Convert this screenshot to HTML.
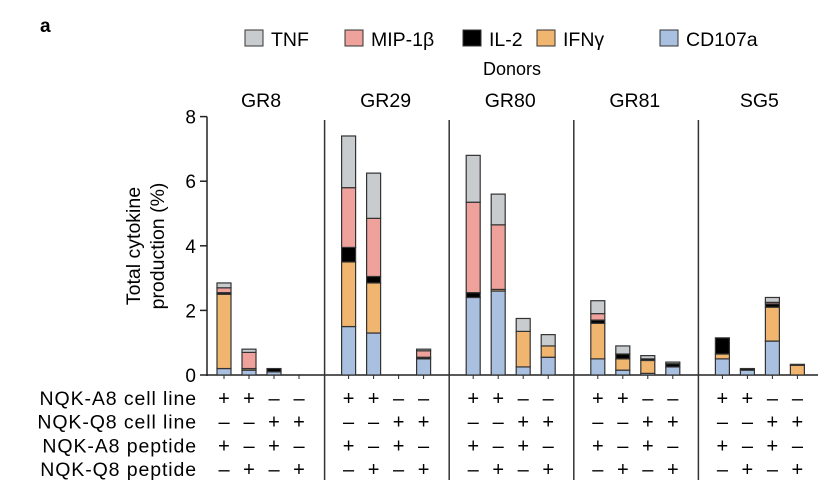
<!DOCTYPE html>
<html><head><meta charset="utf-8"><style>
body{margin:0;background:#fff;}
svg{display:block;font-family:"Liberation Sans",sans-serif;}
</style></head><body>
<svg id="chart" width="831" height="501"></svg>
<script>
const donors=["GR8","GR29","GR80","GR81","SG5"];
const seriesNames=["CD107a","IFNγ","IL-2","MIP-1β","TNF"];
const colors=["#a9c0e0","#f0b56e","#000000","#eea29b","#c9cccf"];
const cd107a=[0.2,0.15,0.1,0, 1.5,1.3,0,0.5, 2.4,2.6,0.25,0.55, 0.5,0.15,0.05,0.25, 0.5,0.15,1.05,0];
const ifng=[2.3,0.05,0,0, 2.0,1.55,0,0, 0,0.05,1.1,0.35, 1.1,0.35,0.4,0, 0.15,0,1.05,0.3];
const il2=[0.05,0,0.1,0, 0.45,0.2,0,0.05, 0.15,0,0,0, 0.1,0.15,0.05,0.1, 0.5,0.05,0.1,0.03];
const mip=[0.15,0.5,0,0, 1.85,1.8,0,0.2, 2.8,2.0,0,0, 0.2,0,0,0, 0,0,0.05,0];
const tnf=[0.15,0.1,0,0, 1.6,1.4,0,0.05, 1.45,0.95,0.4,0.35, 0.4,0.25,0.1,0.05, 0,0,0.15,0];
const yTicks=[0,2,4,6,8];
const rowLabels=["NQK-A8 cell line","NQK-Q8 cell line","NQK-A8 peptide","NQK-Q8 peptide"];
const rowSigns=[["+","+","–","–"],["–","–","+","+"],["+","–","+","–"],["–","+","–","+"]];
const series=[cd107a,ifng,il2,mip,tnf];
const NS="http://www.w3.org/2000/svg";
const svg=document.getElementById("chart");
function el(t,a,p){const e=document.createElementNS(NS,t);for(const k in a)e.setAttribute(k,a[k]);(p||svg).appendChild(e);return e;}
const y=v=>375-v*32.3;
const x=i=>224+Math.floor(i/4)*124.6+(i%4)*25;
const bw=14;
let t=el("text",{x:40,y:32,"font-size":19,"font-weight":"bold"});t.textContent="a";

const legX=[245,345,463,537,660];
const legOrder=[4,3,2,1,0];
legOrder.forEach((s,k)=>{
 const g=el("g",{});
 
 
 el("rect",{x:legX[k],y:30,width:18,height:16,fill:colors[s],stroke:"#333","stroke-width":1},g);
 const tt=el("text",{x:legX[k]+26,y:46,"font-size":19.5},g);tt.textContent=seriesNames[s];
});
t=el("text",{x:512,y:75,"font-size":18,"text-anchor":"middle"});t.textContent="Donors";

donors.forEach((d,g)=>{const tt=el("text",{x:x(g*4)+37,y:107,"font-size":19.5,"text-anchor":"middle"});tt.textContent=d;
 });
el("line",{x1:207,y1:y(8),x2:207,y2:376,stroke:"#222","stroke-width":1.5});
el("line",{x1:207,y1:375,x2:818,y2:375,stroke:"#222","stroke-width":1.5});
yTicks.forEach(v=>{el("line",{x1:200,y1:y(v),x2:207,y2:y(v),stroke:"#222","stroke-width":1.5});
 const tt=el("text",{x:196,y:y(v)+7,"font-size":19,"text-anchor":"end"});tt.textContent=v;
 });
t=el("text",{transform:"translate(140,246) rotate(-90)","font-size":19.5,"text-anchor":"middle"});
el("tspan",{x:0,dy:0},t).textContent="Total cytokine";el("tspan",{x:0,dy:24},t).textContent="production (%)";

[1,2,3,4].forEach(g=>{const xs=x(g*4)-24;el("line",{x1:xs,y1:120,x2:xs,y2:480,stroke:"#333","stroke-width":1.5});});
for(let i=0;i<cd107a.length;i++){
 el("line",{x1:x(i),y1:375,x2:x(i),y2:379,stroke:"#222","stroke-width":1});
 let base=0;
 series.forEach((arr,s)=>{const v=arr[i];if(v<=0)return;
  const r=el("rect",{x:x(i)-bw/2,y:y(base+v),width:bw,height:v*32.3,fill:colors[s],stroke:"#333","stroke-width":1.2});
  
  base+=v;});
}
rowLabels.forEach((l,r)=>{const yy=405+r*23.7;
 const tt=el("text",{x:197,y:yy,"font-size":19.5,"text-anchor":"end","letter-spacing":"0.9"});tt.textContent=l;
 
 for(let i=0;i<20;i++){const s=el("text",{x:x(i),y:yy,"font-size":20,"text-anchor":"middle"});s.textContent=rowSigns[r][i%4];}
});
</script>
</body></html>
